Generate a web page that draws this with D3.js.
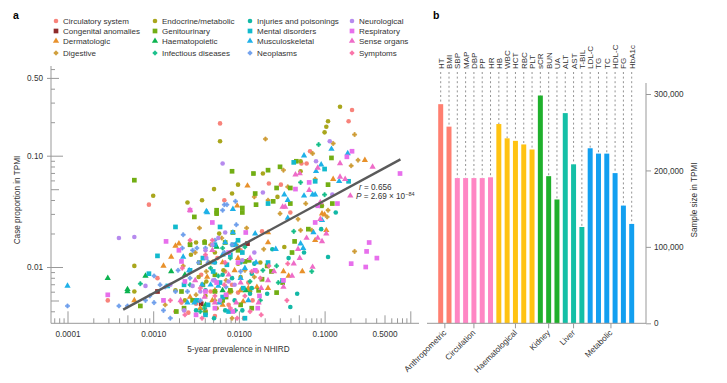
<!DOCTYPE html>
<html>
<head>
<meta charset="utf-8">
<script src="https://cdn.jsdelivr.net/npm/d3@7"></script>
<style>
	html, body { margin: 0; padding: 0; background: #fff; }
	svg { display: block; }
	text { font-family: "Liberation Sans", Arial, sans-serif; fill: #333; }
	.axis path { display: none; }
	.axis line { stroke: #999; }
	.axis text { font-size: 8.2px; fill: #333; font-family: "Liberation Sans", Arial, sans-serif; }
</style>
</head>
<body>
<svg id="chart" width="727" height="383"></svg>
<script>
/* global d3 */

// Panel a values: [log10 prevalence in NHIRD, log10 case proportion in TPMI]
const circulatory = [[-3.53,-2.30],[-3.05,-1.44],[-2.22,-0.71],[-0.68,-0.59],[-0.72,-0.69],[-1.17,-0.96],[-1.21,-1.07],[-1.27,-1.07],[-1.65,-1.25],[-1.51,-1.26],[-2.17,-1.40],[-1.40,-1.51],[-1.79,-2.04],[-2.95,-2.10],[-2.44,-2.07],[-2.67,-2.32],[-2.39,-2.39],[-2.28,-2.44],[-2.12,-2.34],[-2.74,-2.40],[-2.59,-2.41],[-2.01,-2.23],[-1.98,-1.85],[-2.25,-1.92],[-2.16,-2.04],[-1.89,-2.14],[-2.08,-2.16],[-1.73,-1.68],[-2.33,-2.22],[-2.50,-2.33],[-1.94,-2.46],[-1.84,-2.30]];
const congenital = [[-2.95,-2.22],[-2.44,-2.33],[-1.90,-1.79]];
const dermatologic = [[-0.53,-1.04],[-1.90,-1.27],[-2.02,-1.45],[-1.03,-1.52],[-1.00,-1.53],[-0.90,-1.21],[-0.98,-1.67],[-1.11,-1.76],[-1.26,-2.04],[-1.48,-2.04],[-1.42,-2.08],[-1.79,-2.18],[-1.66,-2.19],[-1.95,-2.31],[-3.22,-2.30],[-2.88,-1.99],[-2.79,-1.91],[-2.74,-1.81],[-2.70,-1.79],[-1.66,-1.78],[-2.28,-2.21],[-2.37,-2.09],[-2.45,-2.37],[-2.19,-1.96],[-2.01,-1.92],[-2.31,-1.96],[-2.12,-2.23],[-1.98,-2.21],[-2.57,-2.27],[-1.89,-2.19],[-2.05,-2.03],[-2.19,-2.34],[-2.31,-2.30],[-1.66,-1.69]];
const digestive = [[-1.69,-0.85],[-0.65,-0.81],[-0.90,-0.89],[-1.14,-0.98],[-1.48,-1.13],[-0.61,-1.04],[-0.69,-1.09],[-1.43,-1.28],[-1.11,-1.21],[-1.82,-1.37],[-1.66,-1.40],[-1.22,-1.43],[-0.96,-1.49],[-0.97,-1.55],[-0.65,-1.86],[-1.15,-1.67],[-1.28,-1.67],[-2.46,-1.65],[-1.52,-1.52],[-1.31,-1.57],[-1.71,-1.84],[-1.66,-1.99],[-1.91,-1.65],[-2.20,-1.74],[-2.03,-1.80],[-2.33,-1.80],[-2.51,-1.87],[-2.65,-1.99],[-2.38,-2.04],[-2.15,-2.12],[-1.93,-2.03],[-2.28,-2.30],[-2.86,-2.34],[-2.08,-2.46],[-2.50,-2.25],[-1.82,-2.09]];
const endocrine = [[-0.82,-0.56],[-0.96,-0.69],[-0.98,-0.74],[-1.00,-0.79],[-2.22,-0.87],[-1.72,-1.16],[-1.28,-1.05],[-1.28,-1.14],[-2.01,-1.26],[-2.29,-1.30],[-2.08,-1.34],[-2.43,-1.40],[-2.60,-1.42],[-3.00,-1.36],[-1.55,-1.37],[-1.03,-1.45],[-2.26,-1.52],[-2.23,-1.70],[-2.57,-1.79],[-2.50,-1.78],[-2.40,-1.77],[-1.47,-1.82],[-3.22,-1.99],[-3.22,-2.22],[-1.75,-1.96],[-2.28,-1.87],[-2.35,-1.96],[-2.56,-1.89],[-2.18,-2.03],[-1.98,-2.09],[-2.47,-2.09],[-2.39,-2.26],[-2.09,-2.22],[-2.74,-2.21],[-1.87,-2.22],[-2.26,-2.37],[-2.01,-1.97],[-2.63,-2.30],[-2.38,-2.13]];
const genitourinary = [[-3.22,-1.22],[-2.52,-1.55],[-2.08,-1.14],[-1.83,-1.16],[-1.66,-1.13],[-1.52,-1.10],[-1.33,-1.05],[-0.92,-1.02],[-1.56,-1.29],[-1.40,-1.29],[-1.81,-1.34],[-1.60,-1.41],[-1.40,-1.43],[-1.80,-1.44],[-2.26,-1.49],[-2.26,-1.52],[-1.96,-1.47],[-1.96,-1.51],[-0.96,-1.26],[-0.91,-1.43],[-1.04,-1.45],[-1.19,-1.66],[-1.35,-1.77],[-1.38,-1.87],[-1.62,-2.04],[-1.67,-1.99],[-1.73,-2.11],[-1.49,-2.14],[-1.56,-2.23],[-1.85,-2.37],[-2.40,-1.78],[-3.15,-2.35],[-2.57,-1.80],[-1.88,-1.94],[-1.93,-1.95],[-2.07,-1.69],[-2.16,-1.78],[-2.01,-1.85],[-2.46,-1.96],[-2.28,-2.07],[-2.67,-2.22],[-2.54,-2.30],[-2.42,-2.16],[-2.10,-2.21],[-1.98,-2.34],[-2.19,-2.30],[-2.73,-2.40],[-2.64,-2.37],[-2.39,-2.41],[-2.15,-2.27],[-2.28,-2.22],[-1.77,-2.21]];
const haematopoietic = [[-3.53,-2.10],[-3.30,-2.20],[-3.30,-2.22],[-3.09,-2.08],[-2.79,-2.04],[-2.39,-2.34],[-2.63,-2.07],[-2.19,-2.21],[-2.26,-1.82],[-1.92,-2.21]];
const infectious = [[-1.07,-0.90],[-1.28,-1.24],[-1.00,-1.35],[-1.36,-1.68],[-1.15,-2.04],[-1.72,-2.03],[-1.56,-1.99],[-3.15,-2.15],[-1.87,-2.13],[-1.54,-2.14],[-2.33,-2.01],[-2.10,-1.92],[-2.04,-2.39],[-2.45,-2.40],[-1.93,-1.82],[-2.57,-2.16],[-2.19,-1.83],[-1.75,-2.30],[-2.40,-2.37],[-2.24,-2.08]];
const injuries = [[-0.87,-1.51],[-0.96,-1.91],[-1.04,-1.66],[-1.24,-1.87],[-1.42,-1.92],[-1.61,-1.84],[-1.85,-2.06],[-1.85,-2.19],[-1.67,-2.24],[-1.87,-2.24],[-1.96,-2.39],[-2.16,-2.39],[-1.40,-2.36],[-1.32,-2.24],[-2.50,-2.39],[-2.28,-1.96],[-2.08,-2.10],[-1.98,-1.96],[-2.39,-2.21],[-2.19,-2.07],[-2.05,-2.30],[-2.29,-2.46],[-1.82,-1.97]];
const mental = [[-1.36,-1.06],[-1.66,-1.43],[-1.00,-1.12],[-1.11,-1.23],[-0.72,-1.23],[-2.74,-1.64],[-2.95,-1.90],[-3.05,-2.06],[-2.22,-1.64],[-1.66,-1.96],[-1.49,-2.12],[-2.57,-2.03],[-2.83,-2.17],[-2.22,-2.14],[-2.42,-1.92],[-2.14,-1.98],[-2.19,-2.27],[-2.49,-2.30],[-2.64,-2.16],[-2.30,-2.04],[-2.01,-1.76],[-1.95,-2.19],[-2.36,-2.34],[-2.10,-1.89],[-1.93,-2.46],[-2.12,-2.40],[-1.96,-1.87],[-2.39,-2.43],[-2.28,-1.80],[-2.07,-1.80]];
const musculoskeletal = [[-4.00,-2.17],[-0.92,-0.94],[-0.73,-0.98],[-1.24,-1.00],[-1.04,-1.08],[-1.10,-1.14],[-0.83,-1.23],[-1.47,-1.35],[-1.43,-1.40],[-1.24,-1.36],[-1.14,-1.35],[-1.11,-1.35],[-2.07,-1.48],[-2.38,-1.50],[-2.37,-1.51],[-1.03,-1.58],[-1.13,-1.69],[-1.28,-1.79],[-1.25,-1.83],[-2.65,-1.91],[-2.58,-2.03],[-2.39,-1.92],[-2.60,-2.32],[-2.52,-2.32],[-2.33,-2.16],[-2.16,-1.78],[-2.24,-2.17],[-2.43,-2.16],[-2.23,-2.32],[-1.57,-1.84],[-1.43,-1.56],[-1.93,-2.01],[-2.04,-1.80],[-2.19,-1.89],[-1.89,-2.30],[-1.98,-2.10],[-1.80,-1.96],[-2.29,-1.96],[-2.07,-1.69],[-1.81,-1.70]];
const neoplasms = [[-4.00,-2.35],[-3.40,-2.35],[-3.30,-2.35],[-2.99,-2.08],[-2.65,-1.71],[-2.17,-1.44],[-2.14,-1.44],[-2.19,-1.49],[-2.04,-1.41],[-2.99,-2.32],[-2.92,-2.16],[-2.86,-2.18],[-2.71,-2.03],[-2.66,-1.83],[-2.54,-1.85],[-2.49,-1.83],[-2.47,-1.96],[-2.39,-1.83],[-2.36,-1.96],[-2.57,-2.10],[-2.88,-2.39],[-2.74,-2.22],[-2.60,-2.22],[-2.45,-2.30],[-2.28,-1.76],[-2.17,-1.87],[-2.08,-1.80],[-3.04,-2.26],[-3.09,-2.30],[-2.80,-2.46],[-2.28,-2.12],[-2.15,-2.18],[-1.98,-2.04],[-2.03,-1.62]];
const neurological = [[-3.40,-1.74],[-3.22,-1.73],[-3.09,-2.17],[-2.19,-1.07],[-0.94,-0.87],[-1.10,-1.05],[-1.72,-1.33],[-0.91,-1.35],[-2.39,-1.85],[-2.31,-1.80],[-2.16,-1.69],[-2.80,-2.16],[-2.38,-1.92],[-2.24,-1.74],[-1.82,-1.87],[-2.45,-2.22],[-2.30,-2.12],[-2.12,-2.13],[-2.64,-2.39],[-1.96,-1.94],[-2.05,-2.16],[-2.22,-2.30],[-2.54,-2.17]];
const respiratory = [[-3.53,-2.25],[-2.85,-1.77],[-2.57,-1.49],[-2.31,-1.60],[-2.70,-1.85],[-2.67,-1.95],[-1.18,-1.24],[-1.34,-1.30],[-0.85,-1.43],[-0.74,-1.01],[-0.68,-0.96],[-0.12,-1.16],[-0.48,-1.78],[-0.51,-1.86],[-0.39,-1.92],[-0.69,-1.97],[-0.52,-2.00],[-1.08,-1.45],[-1.11,-1.60],[-2.07,-2.40],[-1.76,-2.26],[-1.78,-2.37],[-2.88,-2.30],[-1.48,-2.12],[-2.39,-2.22],[-2.26,-2.14],[-2.15,-2.25],[-2.01,-1.96],[-2.50,-2.43],[-2.63,-2.13],[-1.81,-2.03],[-2.12,-1.87],[-1.92,-1.69],[-2.28,-2.37]];
const senseOrgans = [[-2.57,-1.49],[-0.70,-1.36],[-0.44,-1.10],[-0.82,-1.07],[-1.08,-1.11],[-0.82,-1.19],[-1.34,-1.17],[-1.29,-1.16],[-1.18,-1.31],[-1.05,-1.42],[-1.05,-1.57],[-1.49,-1.46],[-1.46,-1.46],[-0.76,-1.21],[-0.98,-1.70],[-1.08,-1.74],[-1.03,-1.77],[-1.21,-1.74],[-1.31,-1.84],[-1.29,-1.92],[-1.36,-1.97],[-1.14,-2.00],[-1.59,-2.04],[-1.66,-2.12],[-1.48,-2.18],[-1.38,-2.08],[-1.74,-2.19],[-2.03,-2.32],[-1.77,-2.32],[-2.28,-2.32],[-2.40,-2.27],[-1.98,-2.14],[-2.12,-2.07],[-2.68,-2.30],[-2.51,-2.12],[-1.87,-1.92],[-2.31,-1.85]];
const symptoms = [[-1.43,-1.97],[-1.65,-1.99],[-1.85,-2.04],[-1.75,-2.10],[-1.44,-2.30],[-1.74,-2.43],[-2.39,-1.89],[-2.57,-1.76],[-2.66,-2.01],[-2.28,-2.26],[-2.10,-2.37],[-2.02,-2.46],[-2.45,-2.19],[-1.87,-2.40],[-2.80,-2.30],[-2.63,-2.43],[-1.93,-2.26],[-2.17,-2.16],[-2.16,-1.96],[-2.31,-1.76],[-2.43,-2.46]];

const trendLogX = [-3.35, -0.115];
const trendLogY = [-2.383, -1.033];

const categoryNames = ["Circulatory system", "Congenital anomalies", "Dermatologic", "Digestive", "Endocrine/metabolic", "Genitourinary", "Haematopoietic", "Infectious diseases", "Injuries and poisonings", "Mental disorders", "Musculoskeletal", "Neoplasms", "Neurological", "Respiratory", "Sense organs", "Symptoms"];
const categoryPoints = [circulatory, congenital, dermatologic, digestive, endocrine, genitourinary, haematopoietic, infectious, injuries, mental, musculoskeletal, neoplasms, neurological, respiratory, senseOrgans, symptoms];
const categoryColors = ["#F8837B", "#8E2A2A", "#E8912B", "#CF9C35", "#A9A61C", "#72AE14", "#0CB350", "#14BE88", "#12B8A6", "#12BACD", "#1FB1E8", "#6F9FEC", "#B68AEE", "#E76FEC", "#EE6CC8", "#FA6FA6"];
const categoryShapes = ["circle", "square", "triangle", "cross", "circle", "square", "triangle", "cross", "circle", "square", "triangle", "cross", "circle", "square", "triangle", "cross"];

const xLabelTicks = [0.0001, 0.001, 0.01, 0.1, 0.5];
const xTallTicks = [0.0001, 0.001, 0.01, 0.1, 1];
const xMidTicks = [0.0005, 0.005, 0.05, 0.5];
const xMinorTicks = [0.00007, 0.00008, 0.00009, 0.0002, 0.0003, 0.0004, 0.0006, 0.0007, 0.0008, 0.0009, 0.002, 0.003, 0.004, 0.006, 0.007, 0.008, 0.009, 0.02, 0.03, 0.04, 0.06, 0.07, 0.08, 0.09, 0.2, 0.3, 0.4, 0.6, 0.7, 0.8, 0.9];
const yLabelTicks = [0.01, 0.1, 0.5];
const yMidTicks = [0.005, 0.05];
const yMinorTicks = [0.004, 0.006, 0.007, 0.008, 0.009, 0.02, 0.03, 0.04, 0.06, 0.07, 0.08, 0.09, 0.2, 0.3, 0.4, 0.6];

// Panel b values
const traits = ["HT", "BMI", "SBP", "MAP", "DBP", "PP", "HR", "HB", "WBC", "HCT", "RBC", "PLT", "sCR", "BUN", "UA", "ALT", "AST", "T-BIL", "LDL-C", "TG", "TC", "HDL-C", "FG", "HbA1c"];
const sampleSizes = [286700, 257300, 190000, 190000, 190000, 190000, 191000, 260700, 242000, 238700, 234000, 227400, 298000, 192500, 162000, 275000, 208000, 126000, 229000, 222000, 222000, 196500, 154000, 130000];
const traitGroups = ["Anthropometric", "Anthropometric", "Circulation", "Circulation", "Circulation", "Circulation", "Circulation", "Haematological", "Haematological", "Haematological", "Haematological", "Haematological", "Kidney", "Kidney", "Kidney", "Liver", "Liver", "Liver", "Metabolic", "Metabolic", "Metabolic", "Metabolic", "Metabolic", "Metabolic"];
const groupNames = ["Anthropometric", "Circulation", "Haematological", "Kidney", "Liver", "Metabolic"];
const groupColors = ["#FF7F70", "#FF86C4", "#FFC312", "#1FB02C", "#14BFA6", "#129FF0"];
const sizeTicks = [0, 100000, 200000, 300000];

const svg = d3.select("#chart");

function marker(sel, shape, color) {
	if (shape === "circle") {
		sel.append("circle").attr("r", 2.3).attr("fill", color);
	} else if (shape === "cross") {
		// small blobby plus, the arms are thick in the original
		sel.append("path").attr("d", d3.symbol().type(d3.symbolCross).size(9)())
			.attr("fill", color).attr("stroke", color).attr("stroke-width", 0.7);
	} else {
		const type = shape === "square" ? d3.symbolSquare : d3.symbolTriangle;
		const size = shape === "square" ? 22 : 17;
		sel.append("path").attr("d", d3.symbol().type(type).size(size)()).attr("fill", color);
	}
}

function panelLabel(txt, x, y) {
	svg.append("text").attr("x", x).attr("y", y).attr("font-size", 10.5).attr("font-weight", "bold").style("fill", "#000").text(txt);
}

function drawScatter() {
	const x = d3.scaleLog().domain([0.0001, 1]).range([67.5, 410.3]);
	const y = d3.scaleLog().domain([0.01, 0.1]).range([267, 155.7]);
	const x0 = 51, yBase = 323.3;

	// x axis, ticks point up from the baseline
	function xTicks(values, len) {
		svg.append("g").attr("class", "axis").attr("transform", `translate(0,${yBase})`)
			.call(d3.axisBottom(x).tickValues(values).tickSizeInner(-len).tickSizeOuter(0).tickFormat(""));
	}
	xTicks(xTallTicks, 12);
	xTicks(xMidTicks, 8);
	xTicks(xMinorTicks, 5);
	svg.append("g").attr("class", "axis").attr("transform", `translate(0,${yBase})`)
		.call(d3.axisBottom(x).tickValues(xLabelTicks).tickSize(0).tickPadding(8).tickFormat(d3.format(".4f")))
		.selectAll("line").remove();
	svg.append("line").attr("x1", x0).attr("x2", 419).attr("y1", yBase).attr("y2", yBase).attr("stroke", "#999");

	// y axis, the long ticks cross it
	function yTicks(values, fromX, toX) {
		svg.append("g").attr("class", "axis").attr("transform", `translate(${x0},0)`)
			.call(d3.axisLeft(y).tickValues(values).tickSize(0).tickFormat(""))
			.selectAll("line").attr("x1", fromX).attr("x2", toX);
	}
	yTicks(yMinorTicks, 0, 4);
	yTicks(yMidTicks, 0, 8);
	yTicks([0.5], -4, 8);
	yTicks([0.01, 0.1], -4, 12);
	svg.append("g").attr("class", "axis").attr("transform", `translate(${x0},0)`)
		.call(d3.axisLeft(y).tickValues(yLabelTicks).tickSize(0).tickPadding(8).tickFormat(d3.format(".2f")))
		.selectAll("line").remove();
	svg.append("line").attr("x1", x0).attr("x2", x0).attr("y1", 66).attr("y2", yBase).attr("stroke", "#999");

	svg.append("text").attr("x", 238.5).attr("y", 352).attr("text-anchor", "middle").attr("font-size", 8.2).text("5-year prevalence in NHIRD");
	svg.append("text").attr("transform", "translate(20,200) rotate(-90)").attr("text-anchor", "middle").attr("font-size", 8.2).text("Case proportion in TPMI");

	// Points, one group per category
	categoryPoints.forEach(function(points, i) {
		const g = svg.append("g").selectAll("g").data(points).enter().append("g")
			.attr("transform", (d) => `translate(${x(Math.pow(10, d[0]))},${y(Math.pow(10, d[1]))})`);
		marker(g, categoryShapes[i], categoryColors[i]);
	});

	// Trend line
	const trend = trendLogX.map((v, i) => [x(Math.pow(10, v)), y(Math.pow(10, trendLogY[i]))]);
	svg.append("path").attr("d", d3.line()(trend)).attr("stroke", "#5a5a5a").attr("stroke-width", 2.4).attr("fill", "none");

	const stats = svg.append("g").attr("font-size", 8.2);
	const t1 = stats.append("text").attr("x", 359).attr("y", 190);
	t1.append("tspan").attr("font-style", "italic").text("r");
	t1.append("tspan").text(" = 0.656");
	const t2 = stats.append("text").attr("x", 356).attr("y", 198.5);
	t2.append("tspan").attr("font-style", "italic").text("P");
	t2.append("tspan").text(" = 2.69 × 10");
	t2.append("tspan").attr("font-size", 5.5).attr("dy", -3).text("−84");

	// Legend, filled column by column
	const legendX = [56, 155, 250, 352];
	const legendY = [21, 31, 41, 53];
	categoryNames.forEach(function(name, i) {
		const g = svg.append("g").attr("transform", `translate(${legendX[Math.floor(i / 4)]},${legendY[i % 4]})`);
		marker(g, categoryShapes[i], categoryColors[i]);
		g.append("text").attr("x", 7).attr("y", 2.8).attr("font-size", 8).text(name);
	});
}

function drawBars() {
	const step = (631.7 - 440.7) / 23;
	const x = d3.scaleBand().domain(traits).range([440.7 - step / 2, 631.7 + step / 2]).paddingInner(0.4).paddingOuter(0.2);
	const y = d3.scaleLinear().domain([0, 300000]).range([323.3, 94]);
	const color = d3.scaleOrdinal().domain(groupNames).range(groupColors);
	const cx = (t) => x(t) + x.bandwidth() / 2;

	// Dashed guides from each label down to its bar
	svg.append("g").selectAll("line").data(traits).enter().append("line")
		.attr("x1", cx).attr("x2", cx).attr("y1", 72)
		.attr("y2", (t, i) => y(sampleSizes[i]))
		.attr("stroke", "#777").attr("stroke-width", 0.8).attr("stroke-dasharray", "2,2.6");

	svg.append("g").selectAll("rect").data(traits).enter().append("rect")
		.attr("x", (t) => x(t))
		.attr("y", (t, i) => y(sampleSizes[i]))
		.attr("width", x.bandwidth())
		.attr("height", (t, i) => y(0) - y(sampleSizes[i]))
		.attr("fill", (t, i) => color(traitGroups[i]));

	svg.append("g").selectAll("text").data(traits).enter().append("text")
		.attr("transform", (t) => `translate(${cx(t) + 3},69) rotate(-90)`)
		.attr("font-size", 8).text((t) => t);

	// Baseline and right axis
	svg.append("line").attr("x1", 427).attr("x2", 646).attr("y1", y(0)).attr("y2", y(0)).attr("stroke", "#999");
	svg.append("g").attr("class", "axis").attr("transform", "translate(646,0)")
		.call(d3.axisRight(y).tickValues(sizeTicks).tickSize(5).tickPadding(3).tickFormat((d) => d3.format(",")(d)));
	svg.append("line").attr("x1", 646).attr("x2", 646).attr("y1", 83).attr("y2", y(0)).attr("stroke", "#999");
	svg.append("text").attr("transform", "translate(697,200) rotate(-90)").attr("text-anchor", "middle").attr("font-size", 8.2).text("Sample size in TPMI");

	// Group ticks sit at the middle of each group of bars
	groupNames.forEach(function(name) {
		const members = traits.filter((t, i) => traitGroups[i] === name);
		const gx = d3.mean(members, cx);
		svg.append("line").attr("x1", gx).attr("x2", gx).attr("y1", y(0)).attr("y2", y(0) + 5).attr("stroke", "#999");
		svg.append("text").attr("transform", `translate(${gx + 2},${y(0) + 10}) rotate(-45)`)
			.attr("text-anchor", "end").attr("font-size", 8.2).text(name);
	});
}

panelLabel("a", 13, 19);
panelLabel("b", 433, 19);
drawScatter();
drawBars();
</script>
</body>
</html>
